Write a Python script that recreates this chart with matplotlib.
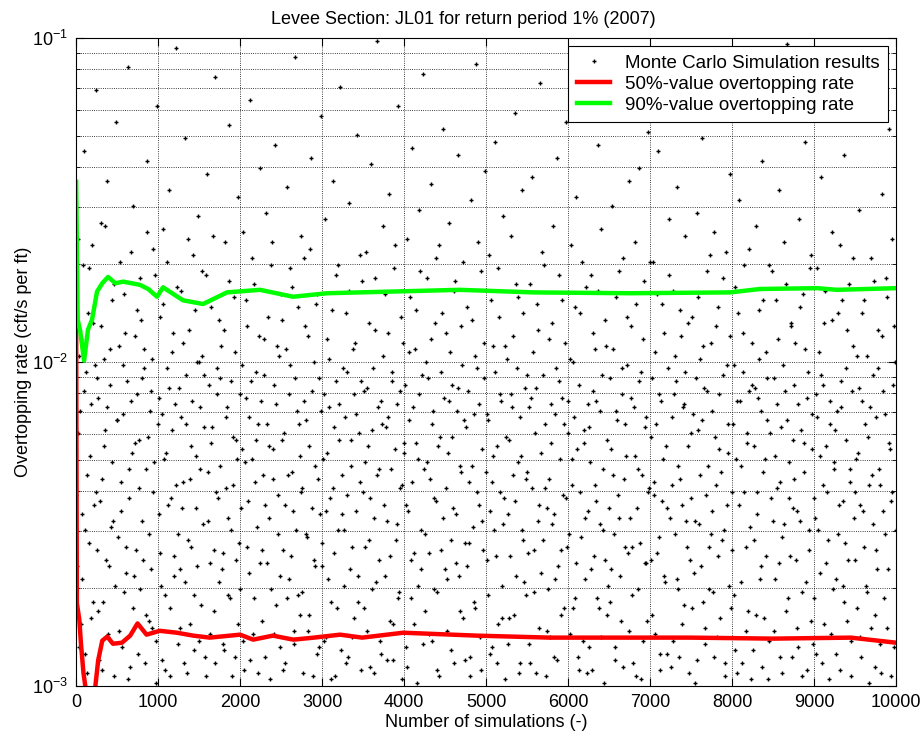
import numpy as np
import matplotlib
matplotlib.use('Agg')
import matplotlib.pyplot as plt

plt.rcParams['font.family'] = ['Liberation Sans', 'DejaVu Sans']
plt.rcParams['mathtext.default'] = 'regular'

# Text
title = 'Levee Section: JL01 for return period 1% (2007)'
xlabel = 'Number of simulations (-)'
ylabel = 'Overtopping rate (cft/s per ft)'
legend_labels = ['Monte Carlo Simulation results',
                 '50%-value overtopping rate',
                 '90%-value overtopping rate']
x_ticks = [0, 1000, 2000, 3000, 4000, 5000, 6000, 7000, 8000, 9000, 10000]

# Running 50% value
p50_sim = [1, 10, 40, 60, 90, 130, 180, 230, 270, 320, 380, 450, 560, 660, 750,
           860, 1020, 1230, 1430, 1630, 2000, 2160, 2400, 2650, 2900, 3220, 3490,
           3990, 4890, 5780, 6760, 7500, 8500, 9450, 10000]
p50_val = [0.0133, 0.0018, 0.0016, 0.00135, 0.0011, 0.00093, 0.0009, 0.00097, 0.0012,
           0.00138, 0.00142, 0.00135, 0.00136, 0.00143, 0.00156, 0.00144, 0.00148,
           0.00146, 0.00143, 0.00141, 0.00144, 0.00139, 0.00143, 0.00139, 0.00141,
           0.00144, 0.00141, 0.00146, 0.00143, 0.00141, 0.00141, 0.00141, 0.00140,
           0.00141, 0.00136]

# Running 90% value
p90_sim = [1, 20, 50, 98, 146, 195, 256, 320, 390, 480, 573, 680, 780, 880, 988,
           1061, 1305, 1549, 1841, 2244, 2646, 3061, 3463, 4680, 5570, 6760, 7980,
           8340, 9040, 9280, 10000]
p90_val = [0.036, 0.0135, 0.0125, 0.0101, 0.0126, 0.0135, 0.0165, 0.0175, 0.0183,
           0.0175, 0.0177, 0.0175, 0.0173, 0.0168, 0.0159, 0.0170, 0.0155, 0.0151,
           0.0164, 0.0167, 0.0159, 0.0163, 0.0164, 0.0167, 0.0164, 0.0163, 0.0164,
           0.0168, 0.0169, 0.0167, 0.0169]

# Monte Carlo results (a visible sample of the cloud, log10 of the rate)
mc_sim = [
    3, 18, 31, 47, 62, 75, 94, 108, 121, 139, 152, 170, 186, 203, 221, 240,
    257, 266, 284, 299, 311, 327, 345, 358, 372, 389, 401, 416, 433, 450, 468, 487,
    505, 521, 538, 552, 569, 584, 597, 613, 629, 641, 658, 674, 690, 707, 722, 741,
    754, 770, 783, 801, 816, 829, 848, 862, 877, 893, 909, 921, 937, 952, 970, 988,
    1006, 1019, 1035, 1052, 1064, 1081, 1099, 1113, 1128, 1142, 1160, 1176, 1190, 1207, 1222, 1239,
    1254, 1271, 1286, 1300, 1317, 1333, 1346, 1362, 1379, 1394, 1408, 1425, 1441, 1457, 1473, 1490,
    1503, 1517, 1535, 1548, 1566, 1580, 1597, 1611, 1628, 1644, 1659, 1677, 1690, 1708, 1723, 1744,
    1757, 1769, 1788, 1802, 1815, 1831, 1849, 1863, 1877, 1894, 1910, 1926, 1940, 1955, 1971, 1992,
    2004, 2020, 2036, 2049, 2067, 2082, 2096, 2114, 2127, 2143, 2160, 2174, 2191, 2206, 2223, 2238,
    2256, 2269, 2287, 2301, 2318, 2332, 2350, 2363, 2380, 2396, 2409, 2427, 2442, 2458, 2474, 2493,
    2507, 2522, 2538, 2551, 2568, 2585, 2599, 2613, 2630, 2645, 2661, 2676, 2693, 2709, 2726, 2742,
    2753, 2771, 2786, 2800, 2817, 2834, 2847, 2865, 2879, 2896, 2912, 2927, 2944, 2958, 2975, 2990,
    3005, 3021, 3034, 3052, 3066, 3080, 3097, 3112, 3129, 3144, 3158, 3175, 3189, 3206, 3220, 3241,
    3255, 3270, 3288, 3302, 3316, 3331, 3349, 3365, 3378, 3394, 3411, 3426, 3440, 3459, 3475, 3488,
    3506, 3519, 3537, 3553, 3567, 3582, 3596, 3615, 3628, 3643, 3660, 3673, 3691, 3705, 3724, 3739,
    3758, 3772, 3787, 3803, 3818, 3830, 3848, 3864, 3877, 3892, 3911, 3925, 3938, 3956, 3972, 3989,
    4003, 4018, 4033, 4050, 4065, 4081, 4094, 4111, 4127, 4141, 4159, 4173, 4188, 4204, 4221, 4236,
    4254, 4268, 4285, 4299, 4316, 4333, 4345, 4362, 4378, 4393, 4407, 4424, 4439, 4456, 4472, 4491,
    4508, 4523, 4536, 4554, 4569, 4583, 4598, 4614, 4629, 4646, 4660, 4677, 4692, 4707, 4725, 4740,
    4755, 4770, 4788, 4801, 4819, 4832, 4850, 4863, 4880, 4895, 4909, 4926, 4943, 4957, 4973, 4988,
    5006, 5022, 5035, 5051, 5068, 5083, 5096, 5114, 5128, 5143, 5161, 5175, 5190, 5205, 5222, 5237,
    5257, 5271, 5286, 5303, 5317, 5332, 5348, 5361, 5379, 5395, 5410, 5426, 5443, 5457, 5474, 5490,
    5503, 5520, 5534, 5552, 5566, 5581, 5599, 5612, 5630, 5644, 5659, 5675, 5693, 5708, 5721, 5743,
    5756, 5770, 5787, 5802, 5816, 5834, 5847, 5864, 5879, 5893, 5911, 5924, 5941, 5955, 5973, 5989,
    6004, 6019, 6036, 6050, 6064, 6082, 6097, 6110, 6128, 6142, 6157, 6173, 6190, 6206, 6219, 6238,
    6253, 6269, 6284, 6300, 6315, 6333, 6346, 6361, 6377, 6393, 6408, 6423, 6440, 6455, 6471, 6492,
    6507, 6521, 6539, 6553, 6569, 6584, 6598, 6616, 6631, 6645, 6662, 6676, 6690, 6709, 6723, 6741,
    6755, 6772, 6786, 6804, 6818, 6831, 6849, 6863, 6880, 6894, 6911, 6926, 6942, 6956, 6974, 6987,
    7006, 7021, 7037, 7051, 7066, 7081, 7098, 7112, 7127, 7144, 7158, 7176, 7189, 7204, 7222, 7236,
    7258, 7273, 7286, 7302, 7318, 7333, 7347, 7362, 7376, 7394, 7409, 7425, 7440, 7458, 7472, 7490,
    7504, 7518, 7535, 7550, 7567, 7580, 7597, 7613, 7629, 7643, 7660, 7676, 7692, 7707, 7724, 7738,
    7753, 7771, 7785, 7801, 7817, 7832, 7846, 7862, 7878, 7893, 7912, 7926, 7939, 7957, 7971, 7991,
    8005, 8020, 8036, 8049, 8065, 8082, 8095, 8113, 8128, 8141, 8159, 8174, 8188, 8205, 8219, 8240,
    8256, 8270, 8288, 8301, 8316, 8334, 8348, 8364, 8377, 8392, 8410, 8424, 8441, 8457, 8475, 8489,
    8506, 8522, 8537, 8553, 8568, 8582, 8599, 8614, 8628, 8647, 8661, 8675, 8693, 8706, 8722, 8743,
    8754, 8769, 8787, 8803, 8817, 8832, 8848, 8865, 8878, 8896, 8910, 8925, 8943, 8958, 8972, 8990,
    9003, 9019, 9034, 9051, 9067, 9080, 9096, 9113, 9126, 9145, 9157, 9174, 9191, 9207, 9220, 9239,
    9257, 9272, 9287, 9303, 9319, 9331, 9349, 9363, 9380, 9395, 9408, 9427, 9442, 9456, 9473, 9491,
    9506, 9520, 9536, 9552, 9565, 9582, 9597, 9611, 9630, 9644, 9660, 9674, 9691, 9708, 9722, 9742,
    9755, 9770, 9786, 9801, 9815, 9833, 9847, 9864, 9878, 9894, 9909, 9925, 9941, 9955, 9972, 9988,
]
mc_log10 = [
    -2.41, -1.62, -2.88, -2.15, -1.93, -2.67, -1.35, -2.52, -2.03, -2.96, -1.71, -2.29, -2.79, -1.88, -2.44, -1.16,
    -2.58, -2.11, -2.92, -1.57, -2.36, -2.74, -1.99, -2.21, -1.44, -2.85, -2.63, -2.07, -1.81, -2.49, -2.97, -1.26,
    -2.18, -2.83, -1.69, -2.46, -2.01, -2.71, -1.91, -2.57, -1.09, -2.33, -2.94, -2.12, -1.52, -2.66, -2.25, -1.84,
    -2.90, -2.39, -1.74, -2.05, -2.61, -1.96, -2.78, -1.38, -2.23, -2.53, -2.09, -2.82, -1.65, -2.31, -2.99, -1.21,
    -2.47, -1.86, -2.69, -2.16, -1.59, -2.95, -2.28, -2.02, -1.47, -2.76, -2.42, -1.97, -2.60, -2.13, -1.03, -2.87,
    -2.08, -2.64, -1.78, -2.37, -2.93, -1.31, -2.19, -2.55, -1.90, -2.81, -2.26, -1.67, -2.72, -2.45, -2.00, -1.55,
    -2.86, -2.14, -1.72, -2.50, -2.04, -2.97, -1.42, -2.34, -2.62, -1.83, -2.20, -2.77, -1.12, -2.40, -2.10, -2.68,
    -2.32, -1.95, -2.59, -2.89, -1.63, -2.17, -2.48, -1.27, -2.73, -2.06, -2.38, -1.80, -2.91, -2.24, -1.49, -2.56,
    -2.70, -2.27, -1.60, -2.95, -2.11, -1.89, -2.43, -2.65, -1.19, -2.30, -2.84, -1.76, -2.03, -2.51, -2.19, -1.40,
    -2.12, -2.80, -1.93, -2.44, -1.54, -2.62, -2.26, -2.98, -1.70, -2.36, -2.07, -1.33, -2.75, -2.53, -1.98, -2.88,
    -1.87, -2.58, -2.22, -2.93, -1.46, -2.35, -2.67, -2.01, -1.77, -2.46, -2.83, -1.06, -2.15, -2.72, -2.29, -1.61,
    -2.39, -2.96, -1.68, -2.18, -2.54, -1.92, -2.78, -1.37, -2.09, -2.61, -2.32, -1.82, -2.90, -2.05, -2.47, -1.24,
    -2.63, -2.10, -1.56, -2.85, -2.28, -1.99, -2.42, -2.74, -1.44, -2.20, -2.97, -1.73, -2.52, -2.13, -1.15, -2.35,
    -2.02, -2.69, -1.85, -2.41, -2.91, -1.51, -2.24, -2.57, -1.96, -2.79, -2.16, -1.30, -2.66, -2.37, -2.06, -1.75,
    -2.76, -2.31, -1.66, -2.08, -2.55, -2.94, -1.39, -2.21, -2.48, -1.90, -2.68, -1.01, -2.33, -2.86, -2.12, -1.58,
    -2.44, -1.79, -2.92, -2.17, -1.48, -2.60, -2.03, -2.81, -1.71, -2.27, -2.50, -1.21, -2.71, -2.09, -2.38, -1.94,
    -2.25, -2.88, -1.62, -2.46, -1.97, -2.73, -1.34, -2.14, -2.59, -1.84, -2.99, -2.30, -1.53, -2.64, -2.04, -1.11,
    -2.53, -2.00, -1.74, -2.84, -2.36, -1.45, -2.19, -2.70, -1.88, -2.43, -2.95, -1.64, -2.23, -2.58, -1.28, -2.11,
    -1.91, -2.67, -2.28, -1.57, -2.89, -2.07, -2.45, -1.78, -2.62, -2.15, -1.36, -2.77, -2.34, -2.01, -1.69, -2.92,
    -2.20, -1.83, -2.56, -2.97, -1.50, -2.32, -2.74, -1.98, -1.08, -2.40, -2.13, -2.85, -1.72, -2.49, -2.05, -1.41,
    -2.61, -2.18, -1.67, -2.90, -2.37, -1.95, -2.52, -1.32, -2.26, -2.81, -1.86, -2.10, -2.69, -1.55, -2.42, -2.98,
    -1.99, -2.47, -2.79, -1.61, -2.14, -2.35, -1.23, -2.66, -2.02, -1.80, -2.93, -2.29, -1.47, -2.55, -2.08, -2.72,
    -2.34, -2.87, -1.76, -2.11, -1.43, -2.58, -2.22, -2.96, -1.90, -2.44, -1.14, -2.65, -2.04, -1.70, -2.39, -2.83,
    -2.70, -1.93, -2.25, -2.50, -1.58, -2.91, -2.16, -1.37, -2.63, -2.06, -2.78, -1.81, -2.41, -2.19, -1.26, -2.57,
    -2.12, -2.84, -1.64, -2.38, -2.00, -2.73, -1.49, -2.27, -2.95, -1.85, -2.54, -1.04, -2.21, -2.67, -1.77, -2.46,
    -2.88, -2.31, -1.73, -2.09, -2.60, -1.96, -2.43, -1.33, -2.76, -2.15, -1.59, -2.52, -2.99, -1.87, -2.24, -2.69,
    -2.05, -2.64, -1.52, -2.35, -2.92, -1.80, -2.18, -2.48, -1.18, -2.80, -2.10, -1.68, -2.57, -2.29, -2.01, -1.44,
    -2.48, -1.89, -2.72, -2.14, -1.63, -2.97, -2.33, -1.40, -2.56, -2.03, -2.86, -1.75, -2.20, -2.62, -1.29, -2.39,
    -2.23, -2.78, -1.69, -2.41, -1.97, -2.59, -1.35, -2.10, -2.90, -1.82, -2.30, -2.66, -1.07, -2.45, -2.02, -1.56,
    -2.94, -2.17, -1.78, -2.53, -2.06, -1.46, -2.70, -2.36, -1.92, -2.81, -2.13, -1.61, -2.49, -2.26, -1.20, -2.61,
    -2.42, -1.86, -2.65, -2.99, -1.54, -2.21, -2.50, -1.99, -1.31, -2.74, -2.08, -2.87, -1.72, -2.32, -2.57, -1.94,
    -2.15, -2.71, -1.60, -2.38, -2.85, -1.83, -2.27, -1.10, -2.55, -2.04, -2.93, -1.66, -2.44, -2.19, -1.42, -2.76,
    -2.58, -2.01, -1.77, -2.30, -2.96, -1.50, -2.12, -2.68, -1.91, -2.40, -1.25, -2.83, -2.22, -1.65, -2.51, -2.07,
    -2.89, -2.26, -1.58, -2.47, -2.11, -1.84, -2.63, -1.38, -2.34, -2.79, -1.97, -2.18, -2.98, -1.70, -2.42, -1.13,
    -2.05, -2.67, -1.81, -2.39, -1.47, -2.91, -2.20, -2.54, -1.63, -2.09, -2.77, -1.02, -2.31, -2.60, -1.89, -2.45,
    -2.36, -1.94, -2.82, -2.13, -1.56, -2.49, -2.71, -1.79, -2.25, -1.32, -2.95, -2.03, -2.58, -1.67, -2.16, -2.87,
    -2.73, -2.10, -1.71, -2.52, -2.29, -1.43, -2.93, -2.07, -1.88, -2.62, -2.40, -1.19, -2.19, -2.84, -1.60, -2.33,
    -2.21, -2.90, -1.85, -2.44, -1.64, -2.14, -2.69, -1.36, -2.56, -2.02, -2.80, -1.76, -2.37, -2.97, -1.95, -2.48,
    -2.61, -1.98, -2.28, -1.53, -2.85, -2.12, -2.46, -1.81, -1.16, -2.71, -2.23, -2.99, -1.68, -2.35, -2.04, -2.78,
    -2.17, -2.64, -1.90, -2.38, -2.96, -1.48, -2.09, -2.53, -1.74, -2.82, -1.28, -2.27, -2.43, -1.62, -2.88, -2.00,
]

# More Monte Carlo results, the denser lower part of the cloud
mc_sim_more = [
    9, 25, 40, 55, 69, 84, 100, 115, 131, 146, 161, 178, 194, 212, 229, 246,
    253, 271, 290, 305, 319, 336, 351, 365, 380, 395, 409, 424, 441, 458, 476, 494,
    512, 529, 545, 560, 576, 590, 605, 621, 635, 650, 666, 682, 698, 714, 731, 747,
    762, 776, 792, 808, 823, 838, 855, 869, 885, 900, 915, 929, 944, 961, 978, 995,
    1011, 1027, 1043, 1058, 1072, 1090, 1105, 1120, 1135, 1150, 1168, 1183, 1198, 1214, 1230, 1246,
    1262, 1278, 1293, 1308, 1325, 1340, 1354, 1370, 1386, 1401, 1416, 1433, 1449, 1465, 1481, 1496,
    1510, 1526, 1541, 1557, 1573, 1589, 1604, 1620, 1636, 1651, 1668, 1683, 1699, 1715, 1731, 1748,
    1761, 1778, 1795, 1809, 1823, 1840, 1856, 1870, 1886, 1902, 1918, 1933, 1948, 1963, 1980, 1996,
    2011, 2028, 2042, 2058, 2074, 2089, 2105, 2120, 2135, 2151, 2167, 2182, 2198, 2214, 2230, 2245,
    2262, 2278, 2294, 2309, 2325, 2341, 2356, 2372, 2388, 2403, 2418, 2434, 2450, 2466, 2483, 2499,
    2514, 2530, 2545, 2559, 2576, 2592, 2606, 2621, 2638, 2653, 2669, 2684, 2701, 2717, 2734, 2749,
    2761, 2779, 2793, 2808, 2825, 2841, 2856, 2872, 2887, 2904, 2919, 2935, 2951, 2966, 2982, 2997,
    3013, 3028, 3043, 3059, 3073, 3088, 3104, 3120, 3136, 3151, 3166, 3182, 3198, 3213, 3230, 3247,
    3262, 3279, 3295, 3309, 3323, 3340, 3356, 3371, 3386, 3402, 3418, 3433, 3450, 3466, 3481, 3496,
    3512, 3528, 3545, 3560, 3575, 3589, 3605, 3621, 3635, 3651, 3666, 3682, 3698, 3714, 3731, 3746,
    3765, 3780, 3795, 3810, 3824, 3839, 3856, 3870, 3885, 3901, 3918, 3931, 3947, 3964, 3980, 3996,
    4010, 4026, 4041, 4057, 4073, 4087, 4103, 4119, 4134, 4150, 4166, 4181, 4196, 4212, 4228, 4244,
    4261, 4276, 4292, 4308, 4324, 4339, 4353, 4370, 4385, 4400, 4415, 4431, 4447, 4464, 4480, 4497,
    4515, 4530, 4545, 4561, 4576, 4590, 4606, 4621, 4637, 4653, 4668, 4684, 4699, 4716, 4732, 4747,
    4762, 4778, 4795, 4810, 4826, 4841, 4857, 4871, 4887, 4902, 4917, 4934, 4950, 4965, 4981, 4996,
    5014, 5029, 5043, 5059, 5075, 5090, 5105, 5121, 5136, 5152, 5168, 5183, 5197, 5213, 5229, 5244,
    5263, 5279, 5294, 5310, 5325, 5340, 5355, 5369, 5387, 5402, 5418, 5434, 5450, 5465, 5482, 5497,
    5511, 5527, 5542, 5559, 5573, 5589, 5606, 5621, 5637, 5652, 5667, 5684, 5700, 5714, 5730, 5747,
    5763, 5778, 5794, 5809, 5825, 5840, 5855, 5871, 5886, 5902, 5917, 5932, 5948, 5964, 5980, 5995,
    6011, 6027, 6043, 6057, 6073, 6089, 6103, 6119, 6135, 6149, 6165, 6181, 6197, 6212, 6228, 6245,
    6261, 6276, 6292, 6307, 6324, 6339, 6353, 6369, 6385, 6400, 6415, 6431, 6447, 6463, 6480, 6497,
    6514, 6530, 6546, 6561, 6576, 6591, 6607, 6623, 6638, 6653, 6669, 6683, 6699, 6716, 6732, 6748,
    6763, 6779, 6795, 6811, 6824, 6840, 6856, 6871, 6887, 6902, 6918, 6934, 6949, 6965, 6981, 6995,
    7013, 7029, 7044, 7058, 7074, 7090, 7105, 7120, 7135, 7151, 7167, 7182, 7197, 7213, 7229, 7243,
    7265, 7280, 7294, 7310, 7325, 7340, 7355, 7369, 7385, 7402, 7417, 7432, 7449, 7465, 7481, 7497,
    7511, 7526, 7543, 7558, 7574, 7588, 7605, 7621, 7636, 7651, 7668, 7684, 7700, 7715, 7731, 7746,
    7762, 7778, 7793, 7809, 7824, 7839, 7854, 7870, 7886, 7901, 7919, 7933, 7948, 7964, 7981, 7998,
    8012, 8028, 8042, 8057, 8073, 8089, 8104, 8120, 8135, 8150, 8166, 8181, 8196, 8212, 8227, 8247,
    8263, 8279, 8295, 8308, 8324, 8341, 8356, 8371, 8384, 8400, 8417, 8432, 8449, 8466, 8482, 8496,
    8514, 8530, 8545, 8560, 8575, 8590, 8606, 8621, 8636, 8654, 8668, 8684, 8700, 8714, 8730, 8748,
    8762, 8778, 8795, 8810, 8825, 8840, 8856, 8872, 8887, 8903, 8918, 8934, 8950, 8965, 8981, 8997,
    9011, 9027, 9042, 9059, 9074, 9088, 9104, 9120, 9135, 9151, 9166, 9182, 9199, 9214, 9229, 9246,
    9264, 9280, 9295, 9311, 9326, 9340, 9356, 9371, 9388, 9402, 9417, 9434, 9450, 9464, 9481, 9498,
    9513, 9528, 9544, 9559, 9573, 9590, 9604, 9619, 9637, 9652, 9667, 9682, 9699, 9715, 9730, 9747,
    9762, 9778, 9793, 9808, 9824, 9840, 9855, 9871, 9886, 9902, 9917, 9933, 9948, 9963, 9980, 9996,
]
mc_log10_more = [
    -2.63, -2.22, -1.98, -2.81, -2.47, -1.70, -2.09, -2.90, -2.35, -1.85, -2.56, -2.13, -1.64, -2.74, -2.01, -2.40,
    -2.05, -2.77, -2.43, -1.89, -2.95, -2.26, -1.58, -2.61, -2.14, -2.84, -1.96, -2.51, -2.31, -1.76, -2.69, -2.18,
    -2.54, -1.95, -2.37, -2.88, -2.16, -1.79, -2.65, -2.06, -2.98, -2.42, -1.66, -2.28, -2.76, -1.92, -2.58, -2.10,
    -2.24, -2.70, -1.87, -2.49, -2.02, -2.93, -2.33, -1.60, -2.80, -2.15, -2.64, -1.99, -2.40, -1.73, -2.86, -2.19,
    -2.11, -2.59, -2.92, -1.82, -2.30, -2.72, -1.69, -2.44, -2.08, -2.97, -2.21, -1.91, -2.66, -2.38, -1.77, -2.53,
    -2.82, -2.17, -2.45, -1.94, -2.68, -2.04, -2.96, -1.62, -2.36, -2.57, -2.12, -2.89, -1.84, -2.29, -2.63, -2.00,
    -2.33, -2.75, -1.98, -2.20, -2.91, -1.73, -2.49, -2.07, -2.84, -2.25, -1.61, -2.58, -2.93, -2.02, -2.42, -1.87,
    -2.05, -2.64, -2.87, -1.90, -2.39, -2.14, -2.72, -1.75, -2.52, -2.97, -2.23, -1.97, -2.61, -2.30, -2.81, -2.10,
    -2.45, -2.01, -2.86, -2.31, -1.81, -2.57, -2.17, -2.92, -2.06, -1.68, -2.73, -2.37, -2.24, -2.96, -1.92, -2.62,
    -2.58, -2.35, -2.04, -2.91, -2.19, -1.86, -2.48, -2.70, -1.63, -2.27, -2.84, -2.13, -1.95, -2.41, -2.66, -1.79,
    -2.24, -2.95, -2.44, -1.96, -2.73, -2.10, -1.71, -2.60, -2.34, -2.87, -2.05, -2.52, -1.83, -2.19, -2.78, -2.40,
    -2.71, -2.12, -1.89, -2.53, -2.83, -2.26, -1.65, -2.45, -2.97, -2.00, -2.63, -1.79, -2.36, -2.88, -2.15, -2.56,
    -2.30, -2.86, -2.46, -1.93, -2.67, -2.14, -2.98, -1.84, -2.39, -2.59, -2.06, -2.76, -1.70, -2.24, -2.89, -2.47,
    -2.52, -2.17, -2.93, -2.03, -1.78, -2.64, -2.32, -2.85, -2.10, -1.94, -2.46, -2.74, -2.22, -1.67, -2.95, -2.40,
    -2.09, -2.57, -2.83, -2.26, -1.88, -2.42, -2.70, -2.02, -2.96, -1.74, -2.35, -2.14, -2.61, -2.90, -2.19, -1.98,
    -2.66, -2.20, -2.49, -1.91, -2.80, -2.33, -2.06, -2.92, -1.64, -2.55, -2.13, -2.73, -2.39, -1.86, -2.98, -2.28,
    -2.07, -2.44, -2.94, -2.18, -1.80, -2.61, -2.37, -2.81, -1.96, -2.25, -2.69, -2.10, -1.72, -2.52, -2.87, -2.33,
    -2.77, -2.31, -2.05, -2.59, -1.93, -2.86, -2.15, -2.42, -1.68, -2.71, -2.26, -2.97, -2.03, -1.85, -2.48, -2.64,
    -2.39, -2.83, -2.12, -1.97, -2.55, -2.23, -2.93, -1.75, -2.47, -2.08, -2.66, -2.32, -1.89, -2.79, -2.18, -2.56,
    -2.63, -2.09, -2.37, -2.91, -1.87, -2.51, -2.16, -2.76, -2.02, -1.63, -2.44, -2.95, -2.27, -2.58, -1.94, -2.34,
    -2.16, -2.72, -2.46, -1.81, -2.88, -2.29, -2.03, -2.60, -2.93, -1.71, -2.40, -2.12, -2.79, -2.50, -1.95, -2.23,
    -2.87, -2.24, -2.60, -2.10, -1.92, -2.78, -2.43, -1.76, -2.31, -2.96, -2.17, -2.52, -1.85, -2.68, -2.36, -2.04,
    -2.59, -2.14, -2.93, -2.39, -1.97, -2.71, -2.08, -1.82, -2.49, -2.82, -2.28, -1.66, -2.55, -2.19, -2.97, -2.45,
    -2.36, -2.85, -2.13, -1.88, -2.47, -2.67, -2.02, -2.92, -1.73, -2.30, -2.58, -2.11, -2.76, -1.94, -2.42, -2.22,
    -2.53, -1.99, -2.30, -2.76, -2.17, -1.83, -2.62, -2.91, -2.07, -2.40, -1.69, -2.86, -2.25, -2.48, -2.96, -2.13,
    -2.20, -2.64, -2.95, -1.91, -2.38, -2.12, -2.73, -1.78, -2.50, -2.85, -2.04, -2.33, -2.61, -1.95, -2.78, -2.45,
    -2.74, -2.27, -1.96, -2.53, -2.88, -2.15, -2.41, -1.72, -2.66, -2.02, -2.94, -2.36, -2.19, -1.86, -2.59, -2.83,
    -2.11, -2.57, -2.93, -2.29, -1.82, -2.45, -2.70, -2.06, -2.98, -2.35, -1.93, -2.62, -2.17, -2.80, -2.40, -1.69,
    -2.61, -2.05, -2.37, -2.84, -2.19, -1.79, -2.54, -2.95, -2.12, -2.43, -1.91, -2.68, -2.26, -2.90, -1.73, -2.48,
    -2.38, -2.86, -2.10, -1.98, -2.67, -2.32, -2.91, -1.84, -2.44, -2.14, -2.75, -2.03, -2.57, -1.88, -2.96, -2.22,
    -2.76, -2.16, -2.49, -2.05, -2.92, -1.80, -2.35, -2.63, -2.18, -1.95, -2.82, -2.41, -2.09, -2.70, -1.67, -2.53,
    -2.46, -2.91, -2.23, -1.89, -2.60, -2.10, -2.79, -2.34, -1.74, -2.52, -2.97, -2.01, -2.28, -2.69, -1.92, -2.40,
    -2.19, -2.72, -2.89, -2.12, -1.85, -2.44, -2.32, -2.93, -2.03, -1.70, -2.57, -2.25, -2.77, -2.09, -2.98, -1.94,
    -2.55, -2.08, -2.78, -2.40, -1.99, -2.67, -2.15, -2.94, -1.81, -2.30, -2.60, -2.05, -2.86, -2.22, -1.72, -2.49,
    -2.83, -2.29, -2.13, -1.93, -2.62, -2.37, -2.96, -2.01, -2.50, -1.76, -2.18, -2.73, -2.42, -1.88, -2.91, -2.24,
    -2.07, -2.61, -2.46, -2.88, -1.83, -2.21, -2.97, -2.34, -1.96, -2.68, -2.11, -2.52, -1.71, -2.80, -2.27, -2.42,
    -2.48, -2.90, -2.17, -1.97, -2.65, -2.04, -2.38, -2.81, -1.78, -2.26, -2.55, -2.98, -2.12, -1.87, -2.70, -2.31,
    -2.67, -2.15, -2.53, -2.95, -2.06, -1.81, -2.43, -2.74, -2.24, -1.90, -2.61, -2.33, -2.86, -2.09, -1.68, -2.40,
    -2.30, -2.76, -2.08, -2.44, -2.91, -1.85, -2.57, -2.19, -2.69, -1.98, -2.38, -2.14, -2.82, -2.50, -1.75, -2.94,
    -2.58, -2.02, -2.33, -2.87, -1.92, -2.46, -2.73, -2.16, -1.80, -2.64, -2.25, -2.97, -2.40, -2.07, -1.89, -2.52,
]

mc_rate = 10.0 ** np.array(mc_log10)
mc_rate_more = 10.0 ** np.array(mc_log10_more)

fig = plt.figure(figsize=(9.24, 7.38), dpi=100)
ax = fig.add_axes([0.0823, 0.0705, 0.8874, 0.878])

# Monte Carlo cloud and running percentiles
ax.plot(mc_sim, mc_rate, linestyle='none', marker='+', markersize=3.5,
        markeredgewidth=1.0, color='k', label=legend_labels[0])
ax.plot(mc_sim_more, mc_rate_more, linestyle='none', marker='+', markersize=3.5,
        markeredgewidth=1.0, color='k')
ax.plot(p50_sim, p50_val, color=(1, 0, 0), linewidth=3.2, label=legend_labels[1])
ax.plot(p90_sim, p90_val, color=(0, 1, 0), linewidth=3.2, label=legend_labels[2])

ax.set_yscale('log')
ax.set_xlim(0, 10000)
ax.set_ylim(1e-3, 1e-1)
ax.set_xticks(x_ticks)

# MATLAB-like grid and ticks
ax.grid(True, which='major', linestyle=':', color='k', linewidth=0.6)
ax.grid(True, which='minor', axis='y', linestyle=':', color='k', linewidth=0.6)
ax.tick_params(which='both', direction='in', top=True, right=True, labelsize=13)
ax.tick_params(which='major', length=6)
ax.tick_params(which='minor', length=3)
ax.tick_params(axis='x', pad=6)
ax.tick_params(axis='y', pad=6)
for s in ax.spines.values():
    s.set_linewidth(0.8)

ax.set_title(title, fontsize=13, x=0.472, pad=10)
ax.set_xlabel(xlabel, fontsize=13, labelpad=2)
ax.set_ylabel(ylabel, fontsize=13, labelpad=0)

leg = ax.legend(loc='upper right', fontsize=13.5, fancybox=False, framealpha=1,
                edgecolor='k', borderaxespad=0.45, handlelength=1.8,
                handletextpad=0.75, labelspacing=0.2, borderpad=0.45)
leg.get_frame().set_linewidth(0.8)

fig.savefig('out.png', dpi=100)
